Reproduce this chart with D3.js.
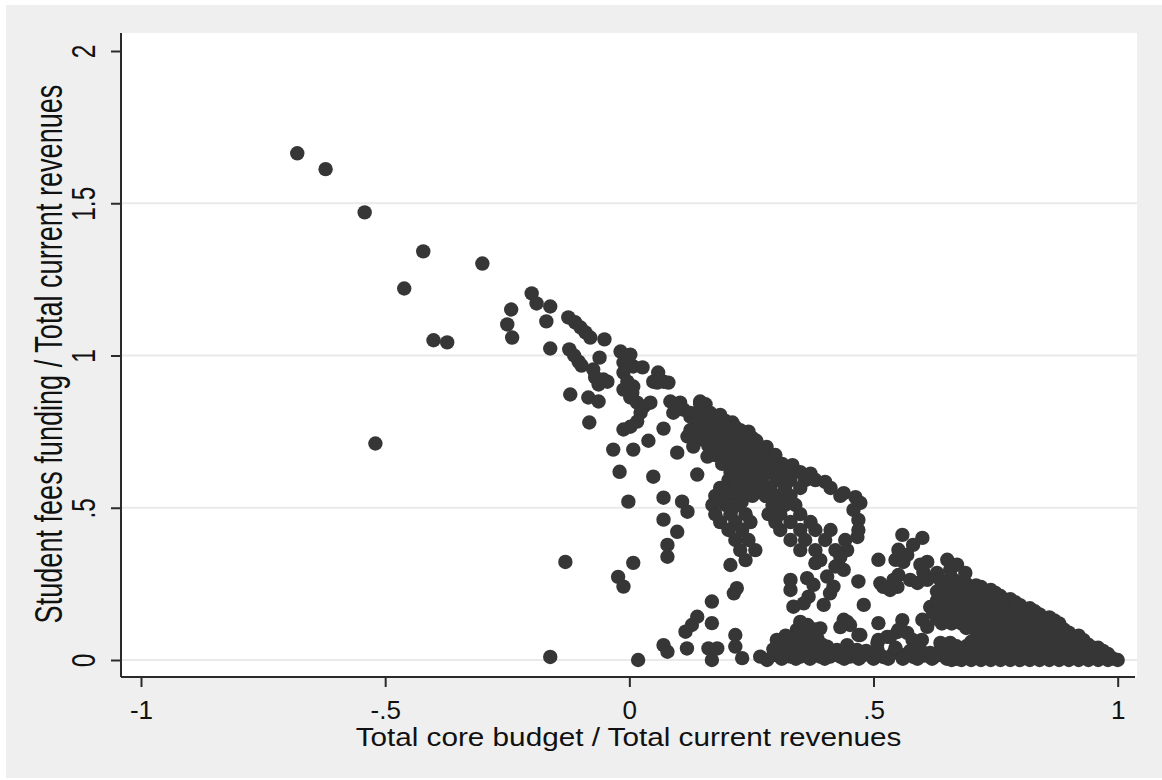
<!DOCTYPE html>
<html>
<head>
<meta charset="utf-8">
<script src="https://cdn.jsdelivr.net/npm/d3@7"></script>
<style>
  html, body { margin: 0; padding: 0; background: #ffffff; }
  svg { display: block; }
</style>
</head>
<body>
<svg id="chart" width="1162" height="780"></svg>
<script>
// Axis ticks and titles
const xTicks = [-1, -0.5, 0, 0.5, 1];
const xTickLabels = ["-1", "-.5", "0", ".5", "1"];
const yTicks = [0, 0.5, 1, 1.5, 2];
const yTickLabels = ["0", ".5", "1", "1.5", "2"];
const yGridValues = [0, 0.5, 1, 1.5];
const xTitle = "Total core budget / Total current revenues";
const yTitle = "Student fees funding / Total current revenues";

// Institutions: [core budget share, student fees share]
const isolated = [
  [-0.680, 1.664], [-0.622, 1.612], [-0.542, 1.470], [-0.422, 1.342], [-0.461, 1.220],
  [-0.301, 1.302], [-0.401, 1.050], [-0.373, 1.043], [-0.520, 0.711], [-0.131, 0.322],
  [-0.162, 0.010], [0.018, 0.000]
];

const upperArm = [
  [-0.200, 1.204], [-0.190, 1.171], [-0.162, 1.161], [-0.242, 1.151], [-0.250, 1.102],
  [-0.240, 1.059], [-0.170, 1.112], [-0.162, 1.023], [-0.125, 1.125], [-0.111, 1.109],
  [-0.100, 1.092], [-0.090, 1.076], [-0.080, 1.059], [-0.051, 1.053], [-0.123, 1.020],
  [-0.113, 1.000], [-0.104, 0.980], [-0.098, 0.967], [-0.061, 0.993], [-0.074, 0.954],
  [-0.070, 0.928], [-0.063, 0.905], [-0.053, 0.921], [-0.018, 1.013], [0.002, 1.003],
  [-0.012, 0.977], [0.008, 0.964], [0.027, 0.961], [-0.012, 0.944], [-0.004, 0.914],
  [0.008, 0.898], [-0.012, 0.888], [0.002, 0.862], [0.016, 0.845], [0.029, 0.832],
  [0.043, 0.845], [0.023, 0.812], [0.016, 0.783], [0.002, 0.766], [-0.012, 0.757],
  [0.059, 0.944], [0.070, 0.914], [0.080, 0.911], [0.049, 0.914], [-0.121, 0.872],
  [-0.084, 0.862], [-0.063, 0.849], [-0.082, 0.780], [0.070, 0.760], [0.039, 0.720],
  [0.008, 0.691], [-0.033, 0.691], [-0.020, 0.618], [0.049, 0.602], [0.098, 0.681],
  [0.139, 0.609], [0.084, 0.849], [0.104, 0.845], [0.090, 0.812], [0.111, 0.822],
  [0.125, 0.799], [0.145, 0.849], [0.119, 0.734], [0.131, 0.701], [0.160, 0.668],
  [-0.002, 0.520], [0.070, 0.533], [0.108, 0.520], [0.119, 0.487], [0.070, 0.461],
  [0.098, 0.421], [0.078, 0.378], [0.078, 0.339], [0.008, 0.319], [-0.023, 0.273],
  [-0.012, 0.241], [-0.045, 0.914], [0.006, 0.878], [0.057, 0.911]
];

const middleMass = [
  [0.145, 0.840], [0.156, 0.840],
  [0.125, 0.811], [0.145, 0.811], [0.166, 0.811], [0.186, 0.805],
  [0.135, 0.785], [0.156, 0.785], [0.176, 0.785], [0.197, 0.785], [0.211, 0.780],
  [0.125, 0.755], [0.145, 0.755], [0.166, 0.755], [0.186, 0.755], [0.207, 0.755], [0.227, 0.755], [0.244, 0.750],
  [0.145, 0.729], [0.170, 0.729], [0.190, 0.729], [0.211, 0.729], [0.231, 0.729], [0.252, 0.729],
  [0.162, 0.703], [0.182, 0.703], [0.203, 0.703], [0.223, 0.703], [0.244, 0.703], [0.264, 0.703], [0.281, 0.700],
  [0.176, 0.673], [0.197, 0.673], [0.217, 0.673], [0.238, 0.673], [0.258, 0.673], [0.279, 0.673], [0.299, 0.673],
  [0.190, 0.644], [0.211, 0.644], [0.231, 0.644], [0.252, 0.644], [0.272, 0.644], [0.293, 0.644], [0.313, 0.644], [0.334, 0.640],
  [0.207, 0.617], [0.227, 0.617], [0.248, 0.617], [0.289, 0.617], [0.309, 0.617], [0.330, 0.617], [0.350, 0.617], [0.371, 0.612],
  [0.203, 0.591], [0.223, 0.591], [0.244, 0.591], [0.272, 0.591], [0.301, 0.591], [0.330, 0.591], [0.360, 0.591], [0.381, 0.591], [0.401, 0.585],
  [0.186, 0.565], [0.217, 0.565], [0.238, 0.565], [0.264, 0.565], [0.289, 0.565], [0.319, 0.565], [0.350, 0.565], [0.412, 0.565], [0.439, 0.548],
  [0.176, 0.539], [0.203, 0.539], [0.227, 0.539], [0.252, 0.539], [0.279, 0.539], [0.305, 0.539], [0.330, 0.539], [0.432, 0.539], [0.463, 0.535],
  [0.170, 0.509], [0.197, 0.509], [0.223, 0.509], [0.293, 0.509], [0.319, 0.509], [0.340, 0.509], [0.473, 0.516],
  [0.176, 0.479], [0.207, 0.479], [0.238, 0.479], [0.285, 0.479], [0.309, 0.479], [0.350, 0.479], [0.459, 0.493],
  [0.186, 0.453], [0.217, 0.453], [0.248, 0.453], [0.299, 0.453], [0.330, 0.453], [0.371, 0.453], [0.469, 0.460],
  [0.203, 0.427], [0.231, 0.427], [0.309, 0.427], [0.350, 0.427], [0.381, 0.427], [0.412, 0.427], [0.469, 0.427],
  [0.217, 0.394], [0.244, 0.394], [0.330, 0.394], [0.360, 0.394], [0.401, 0.394], [0.442, 0.394], [0.467, 0.404],
  [0.227, 0.361], [0.258, 0.361], [0.350, 0.361], [0.381, 0.361], [0.422, 0.361], [0.446, 0.361],
  [0.238, 0.328], [0.391, 0.328], [0.432, 0.338]
];

// Extra institutions packed into the core of the main cluster
const clusterCore = [
  [0.176, 0.770], [0.196, 0.770], [0.217, 0.765], [0.235, 0.740], [0.260, 0.720],
  [0.200, 0.720], [0.220, 0.715], [0.250, 0.690], [0.270, 0.685], [0.210, 0.660],
  [0.230, 0.660], [0.260, 0.655], [0.220, 0.630], [0.240, 0.630], [0.265, 0.625],
  [0.215, 0.605], [0.235, 0.600], [0.255, 0.603], [0.220, 0.575], [0.200, 0.550],
  [0.240, 0.550], [0.190, 0.520], [0.230, 0.520], [0.210, 0.495], [0.160, 0.780],
  [0.180, 0.740], [0.155, 0.720], [0.285, 0.655], [0.305, 0.630], [0.320, 0.600]
];

const lowerBand = [
  [0.070, 0.049], [0.078, 0.027], [0.115, 0.093], [0.128, 0.115], [0.139, 0.142],
  [0.118, 0.038], [0.169, 0.192], [0.169, 0.121], [0.162, 0.038], [0.180, 0.038],
  [0.169, 0.000], [0.214, 0.219], [0.220, 0.236], [0.207, 0.312], [0.217, 0.082],
  [0.217, 0.044], [0.231, 0.006], [0.268, 0.011], [0.295, 0.016], [0.282, 0.000],
  [0.302, 0.066], [0.323, 0.055], [0.343, 0.099], [0.364, 0.110], [0.391, 0.104],
  [0.336, 0.033], [0.357, 0.044], [0.377, 0.055], [0.330, 0.011], [0.350, 0.011],
  [0.371, 0.011], [0.391, 0.011], [0.411, 0.011], [0.432, 0.011], [0.452, 0.011],
  [0.405, 0.044], [0.425, 0.033], [0.446, 0.049], [0.466, 0.033], [0.330, 0.263],
  [0.330, 0.230], [0.336, 0.175], [0.357, 0.186], [0.364, 0.269], [0.377, 0.247],
  [0.367, 0.208], [0.405, 0.274], [0.418, 0.241], [0.411, 0.219], [0.398, 0.181],
  [0.422, 0.307], [0.439, 0.296], [0.381, 0.318], [0.469, 0.258], [0.480, 0.181],
  [0.510, 0.121], [0.510, 0.066], [0.510, 0.022], [0.473, 0.082], [0.514, 0.252],
  [0.452, 0.115], [0.439, 0.132], [0.520, 0.240], [0.541, 0.263], [0.551, 0.279],
  [0.549, 0.240], [0.534, 0.230], [0.446, 0.125], [0.432, 0.108], [0.469, 0.082],
  [0.559, 0.131], [0.551, 0.099], [0.534, 0.076], [0.459, 0.023], [0.479, 0.016],
  [0.508, 0.033], [0.520, 0.010], [0.541, 0.023], [0.561, 0.016], [0.582, 0.010],
  [0.508, 0.056], [0.528, 0.076], [0.549, 0.092], [0.569, 0.089], [0.580, 0.066]
];

// Block of low-fee institutions just right of one third core funding
const lowBlock = [
  [0.310, 0.040], [0.320, 0.080], [0.335, 0.060], [0.345, 0.080], [0.350, 0.100],
  [0.360, 0.070], [0.370, 0.090], [0.375, 0.030], [0.385, 0.070], [0.395, 0.050],
  [0.380, 0.100], [0.365, 0.115], [0.350, 0.125], [0.310, 0.025], [0.295, 0.035]
];

// Institutions sitting on or just above zero student fees
const baseRow = [
  [0.312, 0.004], [0.326, 0.020], [0.341, 0.004], [0.356, 0.022], [0.370, 0.004],
  [0.385, 0.025], [0.400, 0.004], [0.415, 0.020], [0.440, 0.004], [0.455, 0.020],
  [0.470, 0.004], [0.485, 0.030], [0.500, 0.004], [0.530, 0.004], [0.545, 0.040],
  [0.560, 0.004], [0.575, 0.030], [0.590, 0.004], [0.605, 0.015], [0.620, 0.004],
  [0.650, 0.004], [0.670, 0.004]
];

const tailEdge = [
  [0.600, 0.132], [0.616, 0.174], [0.622, 0.154], [0.610, 0.109], [0.599, 0.066],
  [0.616, 0.023], [0.596, 0.033], [0.637, 0.033], [0.637, 0.056], [0.657, 0.023],
  [0.657, 0.056], [0.678, 0.026], [0.596, 0.313], [0.610, 0.322], [0.651, 0.329],
  [0.671, 0.313], [0.688, 0.286], [0.657, 0.296], [0.630, 0.286], [0.602, 0.289],
  [0.575, 0.263], [0.590, 0.253], [0.610, 0.263], [0.637, 0.263], [0.657, 0.263],
  [0.684, 0.263], [0.559, 0.411], [0.600, 0.401], [0.581, 0.378], [0.551, 0.362],
  [0.569, 0.345], [0.545, 0.329], [0.561, 0.322], [0.510, 0.329]
];

// Dense tail near full core funding: core share per column, fee shares per column
const tailX = [0.64, 0.66, 0.68, 0.70, 0.72, 0.74, 0.76, 0.78, 0.80, 0.82,
               0.84, 0.86, 0.88, 0.90, 0.92, 0.94, 0.96, 0.98, 1.00];
const tailY = [
  [0.12, 0.15, 0.18, 0.21, 0.24],
  [0.00, 0.12, 0.15, 0.18, 0.21, 0.24, 0.27],
  [0.00, 0.03, 0.12, 0.15, 0.18, 0.21, 0.24],
  [0.00, 0.03, 0.06, 0.12, 0.15, 0.18, 0.21, 0.24],
  [0.00, 0.03, 0.06, 0.09, 0.12, 0.15, 0.18, 0.21, 0.24],
  [0.00, 0.03, 0.06, 0.09, 0.12, 0.15, 0.18, 0.21, 0.23],
  [0.00, 0.03, 0.06, 0.09, 0.12, 0.15, 0.18, 0.21],
  [0.00, 0.03, 0.06, 0.09, 0.12, 0.15, 0.18, 0.20],
  [0.00, 0.03, 0.06, 0.09, 0.12, 0.15, 0.18],
  [0.00, 0.03, 0.06, 0.09, 0.12, 0.15, 0.17],
  [0.00, 0.03, 0.06, 0.09, 0.12, 0.15],
  [0.00, 0.03, 0.06, 0.09, 0.12, 0.14],
  [0.00, 0.03, 0.06, 0.09, 0.12],
  [0.00, 0.03, 0.06, 0.09],
  [0.00, 0.03, 0.06, 0.08],
  [0.00, 0.03, 0.05],
  [0.00, 0.02, 0.04],
  [0.00, 0.02],
  [0.00]
];

// Second, offset set of tail columns
const tail2X = [0.63, 0.65, 0.67, 0.69, 0.71, 0.73, 0.75, 0.77, 0.79, 0.81,
                0.83, 0.85, 0.87, 0.89, 0.91, 0.93, 0.95, 0.97, 0.99];
const tail2Y = [
  [0.015, 0.135, 0.165, 0.195, 0.225],
  [0.015, 0.135, 0.165, 0.195, 0.225, 0.255],
  [0.015, 0.045, 0.135, 0.165, 0.195, 0.225, 0.255],
  [0.015, 0.045, 0.105, 0.135, 0.165, 0.195, 0.225, 0.250],
  [0.015, 0.045, 0.075, 0.105, 0.135, 0.165, 0.195, 0.225, 0.245],
  [0.015, 0.045, 0.075, 0.105, 0.135, 0.165, 0.195, 0.225],
  [0.015, 0.045, 0.075, 0.105, 0.135, 0.165, 0.195, 0.220],
  [0.015, 0.045, 0.075, 0.105, 0.135, 0.165, 0.195],
  [0.015, 0.045, 0.075, 0.105, 0.135, 0.165, 0.190],
  [0.015, 0.045, 0.075, 0.105, 0.135, 0.165],
  [0.015, 0.045, 0.075, 0.105, 0.135, 0.160],
  [0.015, 0.045, 0.075, 0.105, 0.135],
  [0.015, 0.045, 0.075, 0.105, 0.130],
  [0.015, 0.045, 0.075, 0.100],
  [0.015, 0.045, 0.075],
  [0.015, 0.045, 0.065],
  [0.015, 0.040],
  [0.010, 0.030],
  [0.005]
];

const denseTail = tailX.flatMap((cx, i) => tailY[i].map(cy => [cx, cy]))
  .concat(tail2X.flatMap((cx, i) => tail2Y[i].map(cy => [cx, cy])));
const points = [].concat(isolated, upperArm, middleMass, clusterCore, lowerBand,
                         lowBlock, baseRow, tailEdge, denseTail);

const svg = d3.select("#chart");
const fontFamily = "'Liberation Sans', Arial, sans-serif";

const x = d3.scaleLinear().domain([-1, 1]).range([141, 1117.7]);
const y = d3.scaleLinear().domain([0, 2]).range([660, 51]);

const plot = { left: 121, top: 33, right: 1137, bottom: 677 };

// Graph region and plot region
svg.append("rect")
  .attr("x", 6).attr("y", 5).attr("width", 1156).attr("height", 773)
  .attr("fill", "#efefef");
svg.append("rect")
  .attr("x", plot.left).attr("y", plot.top)
  .attr("width", plot.right - plot.left).attr("height", plot.bottom - plot.top)
  .attr("fill", "#ffffff");

// Horizontal grid lines
svg.append("g")
  .selectAll("line")
  .data(yGridValues)
  .join("line")
  .attr("x1", plot.left).attr("x2", plot.right)
  .attr("y1", d => y(d)).attr("y2", d => y(d))
  .attr("stroke", "#eaeaea")
  .attr("stroke-width", 2);

// Markers
svg.append("g")
  .selectAll("circle")
  .data(points)
  .join("circle")
  .attr("cx", d => x(d[0]))
  .attr("cy", d => y(d[1]))
  .attr("r", 7.2)
  .attr("fill", "#363636");

// Axis lines
svg.append("line")
  .attr("x1", plot.left).attr("x2", plot.left)
  .attr("y1", plot.top).attr("y2", plot.bottom)
  .attr("stroke", "#2a2a2a").attr("stroke-width", 2);
svg.append("line")
  .attr("x1", plot.left).attr("x2", 1135)
  .attr("y1", plot.bottom).attr("y2", plot.bottom)
  .attr("stroke", "#2a2a2a").attr("stroke-width", 2);

// Bottom axis
const xAxis = svg.append("g")
  .attr("transform", `translate(0,${plot.bottom})`)
  .call(d3.axisBottom(x).tickValues(xTicks)
    .tickFormat((d, i) => xTickLabels[i]).tickSize(10).tickSizeOuter(0));
xAxis.select(".domain").remove();
xAxis.selectAll(".tick line").attr("stroke", "#2a2a2a").attr("stroke-width", 2);
xAxis.selectAll(".tick text")
  .attr("y", 41.5).attr("dy", null)
  .attr("fill", "#111")
  .style("font-family", fontFamily)
  .style("font-size", "26px");

// Left axis, labels turned to read upward
const yAxis = svg.append("g")
  .attr("transform", `translate(${plot.left},0)`)
  .call(d3.axisLeft(y).tickValues(yTicks)
    .tickFormat((d, i) => yTickLabels[i]).tickSize(10).tickSizeOuter(0));
yAxis.select(".domain").remove();
yAxis.selectAll(".tick line").attr("stroke", "#2a2a2a").attr("stroke-width", 2);
yAxis.selectAll(".tick text")
  .attr("x", null).attr("dy", null)
  .attr("text-anchor", "middle")
  .attr("transform", "translate(-26,0) rotate(-90) scale(0.72,1)")
  .attr("fill", "#111")
  .style("font-family", fontFamily)
  .style("font-size", "34px");

// Axis titles (glyphs stretched to the measured title lengths)
svg.append("text")
  .attr("transform", "translate(628.5,746) scale(1.188,1)")
  .attr("text-anchor", "middle")
  .attr("fill", "#111")
  .style("font-family", fontFamily)
  .style("font-size", "25px")
  .text(xTitle);

svg.append("text")
  .attr("transform", "translate(62,354) rotate(-90) scale(0.695,1)")
  .attr("text-anchor", "middle")
  .attr("fill", "#111")
  .style("font-family", fontFamily)
  .style("font-size", "39px")
  .text(yTitle);
</script>
</body>
</html>
